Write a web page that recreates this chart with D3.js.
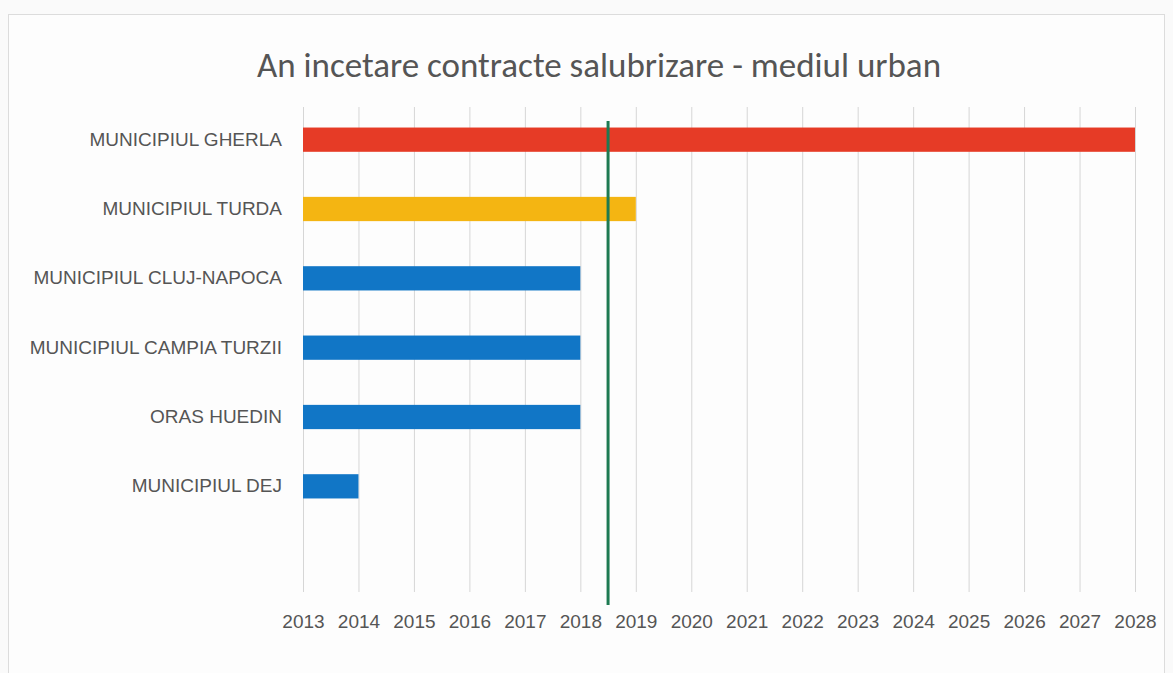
<!DOCTYPE html>
<html>
<head>
<meta charset="utf-8">
<script src="https://cdn.jsdelivr.net/npm/d3@7"></script>
<style>
  body { margin: 0; background: #fafafa; }
  svg { display: block; font-family: Carlito, Calibri, "Open Sans", sans-serif; }
</style>
</head>
<body>
<div id="chart"></div>
<script>
// Data
const towns = [
    "MUNICIPIUL GHERLA",
    "MUNICIPIUL TURDA",
    "MUNICIPIUL CLUJ-NAPOCA",
    "MUNICIPIUL CAMPIA TURZII",
    "ORAS HUEDIN",
    "MUNICIPIUL DEJ"
];
const endYears = [2028, 2019, 2018, 2018, 2018, 2014];
const barColors = ["#e63b26", "#f4b512", "#1176c6", "#1176c6", "#1176c6", "#1176c6"];
const yearTicks = d3.range(2013, 2029);
const markerYear = 2018.5;

const width = 1173;
const height = 673;

const svg = d3.select("#chart")
    .append("svg")
    .attr("width", width)
    .attr("height", height);

// Chart frame
svg.append("rect")
    .attr("x", 8.5)
    .attr("y", 14.5)
    .attr("width", 1156)
    .attr("height", 670)
    .attr("fill", "#fdfdfd")
    .attr("stroke", "#dcdcdc");

// Scales
const x = d3.scaleLinear()
    .domain([2013, 2028])
    .range([303, 1135]);

const y = d3.scaleBand()
    .domain(towns)
    .range([105, 521])
    .paddingInner(0.65)
    .paddingOuter(0.325);

const gridTop = 107;
const gridBottom = 592;

// Vertical gridlines + year labels
const xAxis = d3.axisBottom(x)
    .tickValues(yearTicks)
    .tickFormat(d3.format("d"))
    .tickSize(-(gridBottom - gridTop))
    .tickPadding(23);

const gx = svg.append("g")
    .attr("transform", `translate(0,${gridBottom})`)
    .call(xAxis);

gx.select(".domain").remove();
gx.selectAll(".tick line")
    .attr("stroke", "#d6d6d6");
gx.selectAll(".tick text")
    .attr("fill", "#555")
    .style("font-size", "19px");

// Bars
svg.selectAll("rect.bar")
    .data(towns)
    .enter()
    .append("rect")
    .attr("class", "bar")
    .attr("x", x(2013))
    .attr("y", d => y(d))
    .attr("width", (d, i) => x(endYears[i]) - x(2013))
    .attr("height", y.bandwidth())
    .attr("fill", (d, i) => barColors[i]);

// Category labels
const yAxis = d3.axisLeft(y).tickSize(0).tickPadding(21);
const gy = svg.append("g")
    .attr("transform", `translate(${x(2013)},0)`)
    .call(yAxis);
gy.select(".domain").remove();
gy.selectAll(".tick text")
    .attr("fill", "#555")
    .style("font-size", "19px");

// Current year marker
svg.append("line")
    .attr("x1", x(markerYear))
    .attr("x2", x(markerYear))
    .attr("y1", 121)
    .attr("y2", 605)
    .attr("stroke", "#1d7a52")
    .attr("stroke-width", 3);

// Title
svg.append("text")
    .attr("x", 599)
    .attr("y", 77)
    .attr("text-anchor", "middle")
    .attr("fill", "#555")
    .style("font-size", "35px")
    .text("An incetare contracte salubrizare - mediul urban");
</script>
</body>
</html>
